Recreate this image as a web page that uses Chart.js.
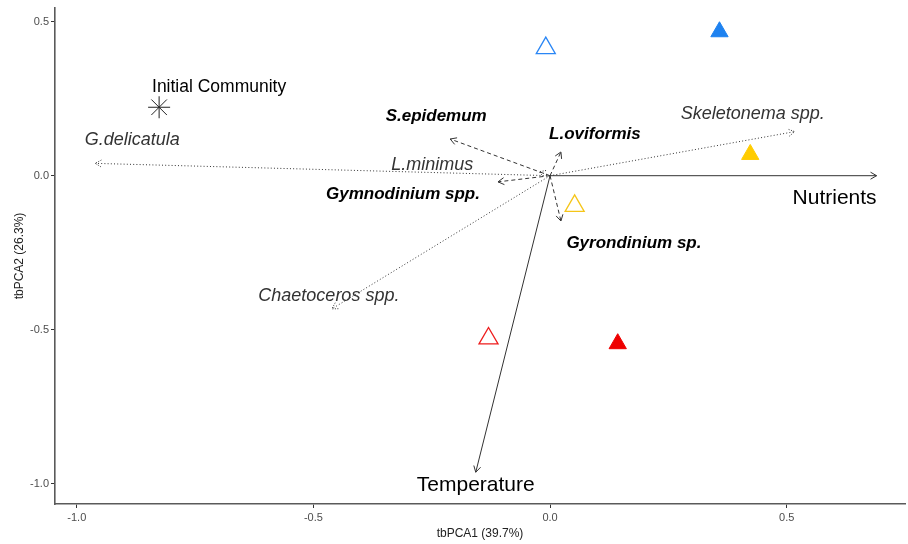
<!DOCTYPE html>
<html>
<head>
<meta charset="utf-8">
<script src="https://cdn.jsdelivr.net/npm/chart.js@4.4.1/dist/chart.umd.min.js"></script>
<style>
  html, body { margin: 0; padding: 0; background: #ffffff; }
  #wrap { width: 908px; height: 544px; }
</style>
</head>
<body>
<div id="wrap"><canvas id="c"></canvas></div>
<script>
// Axis ticks
const xTicks = [-1.0, -0.5, 0.0, 0.5];
const yTicks = [-1.0, -0.5, 0.0, 0.5];

// Environmental vectors (solid arrows)
const envNames = ['Nutrients', 'Temperature'];
const envX = [0.690, -0.157];
const envY = [0.000, -0.962];

// Species vectors drawn dotted
const dotNames = ['G.delicatula', 'L.minimus', 'Skeletonema spp.', 'Chaetoceros spp.'];
const dotX = [-0.961, -0.023, 0.517, -0.461];
const dotY = [0.040, 0.013, 0.143, -0.432];

// Species vectors drawn dashed
const dashNames = ['S.epidemum', 'L.oviformis', 'Gymnodinium spp.', 'Gyrondinium sp.'];
const dashX = [-0.211, 0.023, -0.110, 0.023];
const dashY = [0.119, 0.077, -0.020, -0.147];

// Sample scores
const initName = 'Initial Community';
const initX = [-0.826];
const initY = [0.222];

const blueOpenX = [-0.009], blueOpenY = [0.414];
const blueFillX = [0.358],  blueFillY = [0.467];
const goldOpenX = [0.052],  goldOpenY = [-0.098];
const goldFillX = [0.423],  goldFillY = [0.069];
const redOpenX  = [-0.130], redOpenY  = [-0.528];
const redFillX  = [0.143],  redFillY  = [-0.545];

const pts = (xs, ys) => xs.map((x, i) => ({ x, y: ys[i] }));

const FONT = '"Liberation Sans", Arial, sans-serif';
const INK = '#333333';

// one dataset per vector: origin -> tip
function vectorSets(names, xs, ys, kind) {
  return names.map((n, i) => ({
    type: 'line',
    label: n,
    data: [{ x: 0, y: 0 }, { x: xs[i], y: ys[i] }],
    borderColor: INK,
    borderWidth: 1,
    borderDash: kind === 'dot' ? [1, 2.2] : kind === 'dash' ? [4, 3] : [],
    pointRadius: 0,
    fill: false,
    tension: 0,
    vector: kind,
    order: 2
  }));
}

function markerSet(label, xs, ys, color, filled, r) {
  return {
    type: 'scatter',
    label,
    data: pts(xs, ys),
    pointStyle: 'triangle',
    pointRadius: r,
    pointBackgroundColor: filled ? color : 'rgba(0,0,0,0)',
    pointBorderColor: color,
    pointBorderWidth: filled ? 1 : 1.3,
    order: 1
  };
}

// label placement relative to each vector tip / marker, in pixels
const labelStyle = {
  'Nutrients':        { dx: -42, dy: 23,  font: '21px ' + FONT, color: '#000' },
  'Temperature':      { dx: 0,   dy: 13,  font: '21px ' + FONT, color: '#000' },
  'G.delicatula':     { dx: 37,  dy: -23, font: 'italic 18px ' + FONT, color: INK },
  'L.minimus':        { dx: -107, dy: -7, font: 'italic 18px ' + FONT, color: INK },
  'Skeletonema spp.': { dx: -42, dy: -18, font: 'italic 18px ' + FONT, color: INK },
  'Chaetoceros spp.': { dx: -3,  dy: -13, font: 'italic 18px ' + FONT, color: INK },
  'S.epidemum':       { dx: -14, dy: -23, font: 'italic bold 17px ' + FONT, color: '#000' },
  'L.oviformis':      { dx: 34,  dy: -18, font: 'italic bold 17px ' + FONT, color: '#000' },
  'Gymnodinium spp.': { dx: -95, dy: 12,  font: 'italic bold 17px ' + FONT, color: '#000' },
  'Gyrondinium sp.':  { dx: 73,  dy: 22,  font: 'italic bold 17px ' + FONT, color: '#000' },
  'Initial Community':{ dx: 60,  dy: -20, font: '17.5px ' + FONT, color: '#000' }
};

const biplotPlugin = {
  id: 'biplot',
  afterDatasetsDraw(chart) {
    const ctx = chart.ctx;
    const xs = chart.scales.x, ys = chart.scales.y;
    const ox = xs.getPixelForValue(0), oy = ys.getPixelForValue(0);
    ctx.save();
    chart.data.datasets.forEach(ds => {
      if (!ds.vector) return;
      const tip = ds.data[1];
      const tx = xs.getPixelForValue(tip.x), ty = ys.getPixelForValue(tip.y);
      const ang = Math.atan2(ty - oy, tx - ox);
      const len = 7, spread = Math.PI / 6;
      ctx.strokeStyle = ds.borderColor;
      ctx.lineWidth = ds.borderWidth;
      ctx.setLineDash(ds.vector === 'dot' ? [1, 1.5] : []);
      ctx.beginPath();
      ctx.moveTo(tx - len * Math.cos(ang - spread), ty - len * Math.sin(ang - spread));
      ctx.lineTo(tx, ty);
      ctx.lineTo(tx - len * Math.cos(ang + spread), ty - len * Math.sin(ang + spread));
      ctx.stroke();
      const st = labelStyle[ds.label];
      if (st) {
        ctx.setLineDash([]);
        ctx.font = st.font;
        ctx.fillStyle = st.color;
        ctx.textAlign = 'center';
        ctx.textBaseline = 'middle';
        ctx.fillText(ds.label, tx + st.dx, ty + st.dy);
      }
    });
    // sample label
    const st = labelStyle[initName];
    const px = xs.getPixelForValue(initX[0]), py = ys.getPixelForValue(initY[0]);
    ctx.font = st.font;
    ctx.fillStyle = st.color;
    ctx.textAlign = 'center';
    ctx.textBaseline = 'middle';
    ctx.fillText(initName, px + st.dx, py + st.dy);
    ctx.restore();
  }
};

const datasets = [
  ...vectorSets(dotNames, dotX, dotY, 'dot'),
  ...vectorSets(dashNames, dashX, dashY, 'dash'),
  ...vectorSets(envNames, envX, envY, 'solid'),
  {
    type: 'scatter',
    label: initName,
    data: pts(initX, initY),
    pointStyle: 'star',
    pointRadius: 11,
    pointBorderColor: '#222',
    pointBorderWidth: 1,
    order: 1
  },
  markerSet('blue open', blueOpenX, blueOpenY, '#2a86f5', false, 11),
  markerSet('blue filled', blueFillX, blueFillY, '#1e82f0', true, 10),
  markerSet('gold open', goldOpenX, goldOpenY, '#f5c518', false, 11),
  markerSet('gold filled', goldFillX, goldFillY, '#ffcc00', true, 10),
  markerSet('red open', redOpenX, redOpenY, '#ee1c1c', false, 11),
  markerSet('red filled', redFillX, redFillY, '#ee0000', true, 10)
];

const axisCommon = {
  type: 'linear',
  border: { display: true, color: '#5a5a5a', width: 1.6 },
  grid: { display: true, drawOnChartArea: false, drawTicks: true, tickLength: 4, color: '#333', lineWidth: 1 }
};

// fixed scale boxes so the plot area spans 55..905 x 8..504
function fixBox(s, size) {
  if (s.isHorizontal()) s.height = size; else s.width = size;
  s.paddingLeft = 0; s.paddingRight = 0; s.paddingTop = 0; s.paddingBottom = 0;
}

new Chart(document.getElementById('c'), {
  type: 'scatter',
  data: { datasets },
  plugins: [biplotPlugin],
  options: {
    responsive: true,
    maintainAspectRatio: false,
    animation: false,
    events: [],
    layout: { autoPadding: false, padding: { top: 8, right: 3, left: 0, bottom: 0 } },
    plugins: { legend: { display: false }, tooltip: { enabled: false } },
    scales: {
      x: {
        ...axisCommon,
        position: 'bottom',
        min: -1.046,
        max: 0.75,
        afterBuildTicks: s => { s.ticks = xTicks.map(v => ({ value: v })); },
        afterFit: s => fixBox(s, 40),
        ticks: {
          padding: 3,
          color: '#4d4d4d',
          font: { family: FONT, size: 11 },
          maxRotation: 0,
          callback: v => v.toFixed(1)
        },
        title: {
          display: true,
          text: 'tbPCA1 (39.7%)',
          color: '#222',
          font: { family: FONT, size: 12 },
          padding: { top: 3, bottom: 3 }
        }
      },
      y: {
        ...axisCommon,
        position: 'left',
        min: -1.065,
        max: 0.544,
        afterBuildTicks: s => { s.ticks = yTicks.map(v => ({ value: v })); },
        afterFit: s => fixBox(s, 55),
        ticks: {
          padding: 2,
          color: '#4d4d4d',
          font: { family: FONT, size: 11 },
          callback: v => v.toFixed(1)
        },
        title: {
          display: true,
          text: 'tbPCA2 (26.3%)',
          color: '#222',
          font: { family: FONT, size: 12 },
          padding: { top: 12, bottom: 12 }
        }
      }
    }
  }
});
</script>
</body>
</html>
